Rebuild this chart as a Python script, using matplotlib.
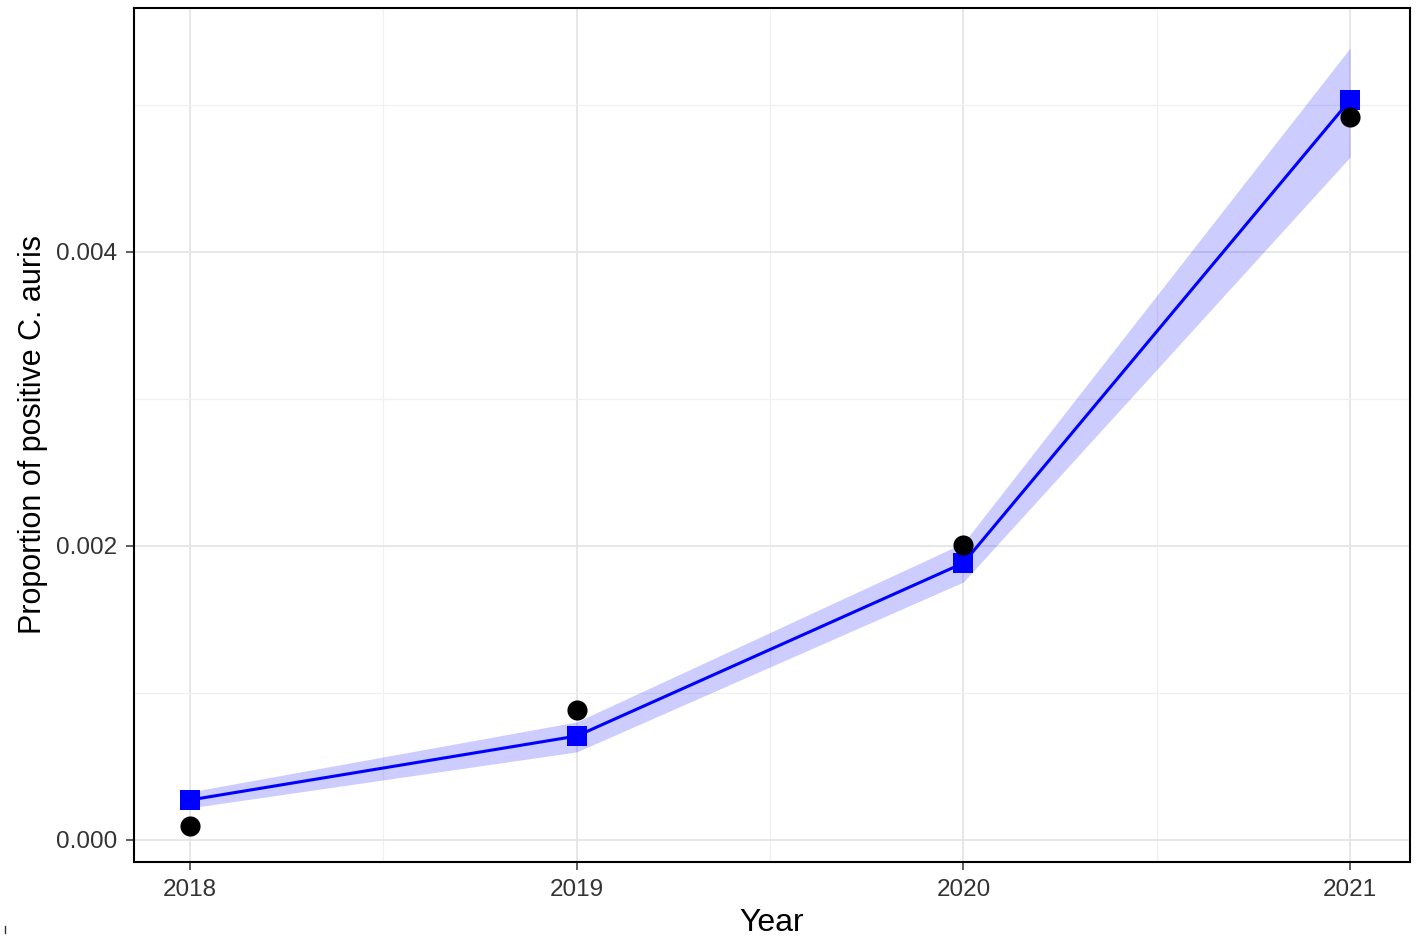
import matplotlib
matplotlib.use("Agg")
import matplotlib.pyplot as plt
from matplotlib.lines import Line2D
from matplotlib.ticker import MultipleLocator

plt.rcParams['font.family'] = ['Liberation Sans', 'DejaVu Sans']

years = [2018, 2019, 2020, 2021]
observed = [0.000095, 0.000884, 0.002010, 0.004918]
fitted = [0.000272, 0.000707, 0.001884, 0.005034]
ci_lower = [0.000218, 0.000599, 0.001755, 0.004646]
ci_upper = [0.000327, 0.000803, 0.002020, 0.005388]
y_ticks = [0.000, 0.002, 0.004]
y_tick_labels = ["0.000", "0.002", "0.004"]

fig = plt.figure(figsize=(14.17, 9.39), dpi=100)
ax = fig.add_axes([134/1417, 1-862/939, (1410-134)/1417, (862-8)/939])

ax.fill_between(years, ci_lower, ci_upper, color='#0000FF', alpha=0.2, linewidth=0, zorder=2)
ax.plot(years, fitted, color='#0000FF', linewidth=2.2, zorder=3)
ax.scatter(years, fitted, marker='s', s=190, color='#0000FF', zorder=4, linewidths=0)
ax.scatter(years, observed, marker='o', s=210, color='black', zorder=5, linewidths=0)

ax.set_xlim(2017.855, 2021.155)
ax.set_ylim(-0.00015, 0.00566)
ax.set_xticks(years)
ax.set_xticklabels([str(y) for y in years])
ax.set_yticks(y_ticks)
ax.set_yticklabels(y_tick_labels)
ax.xaxis.set_minor_locator(MultipleLocator(0.5))
ax.yaxis.set_minor_locator(MultipleLocator(0.001))
ax.grid(which='major', color='#E5E5E5', linewidth=1.3, zorder=0)
ax.grid(which='minor', color='#F0F0F0', linewidth=0.9, zorder=0)
ax.set_axisbelow(True)
ax.tick_params(which='minor', length=0)
ax.tick_params(which='major', length=6, width=1.1, color='#333333', labelsize=17.5,
               labelcolor='#333333', pad=6)
for s in ax.spines.values():
    s.set_linewidth(1.5)
    s.set_color('black')

ax.set_xlabel("Year", fontsize=23, labelpad=5)
ax.set_ylabel("Proportion of positive C. auris", fontsize=22, labelpad=6)

fig.add_artist(Line2D([5/1417, 5/1417], [1-933/939, 1-926/939], color='#333333', linewidth=1))

fig.savefig("out.png", dpi=100)
